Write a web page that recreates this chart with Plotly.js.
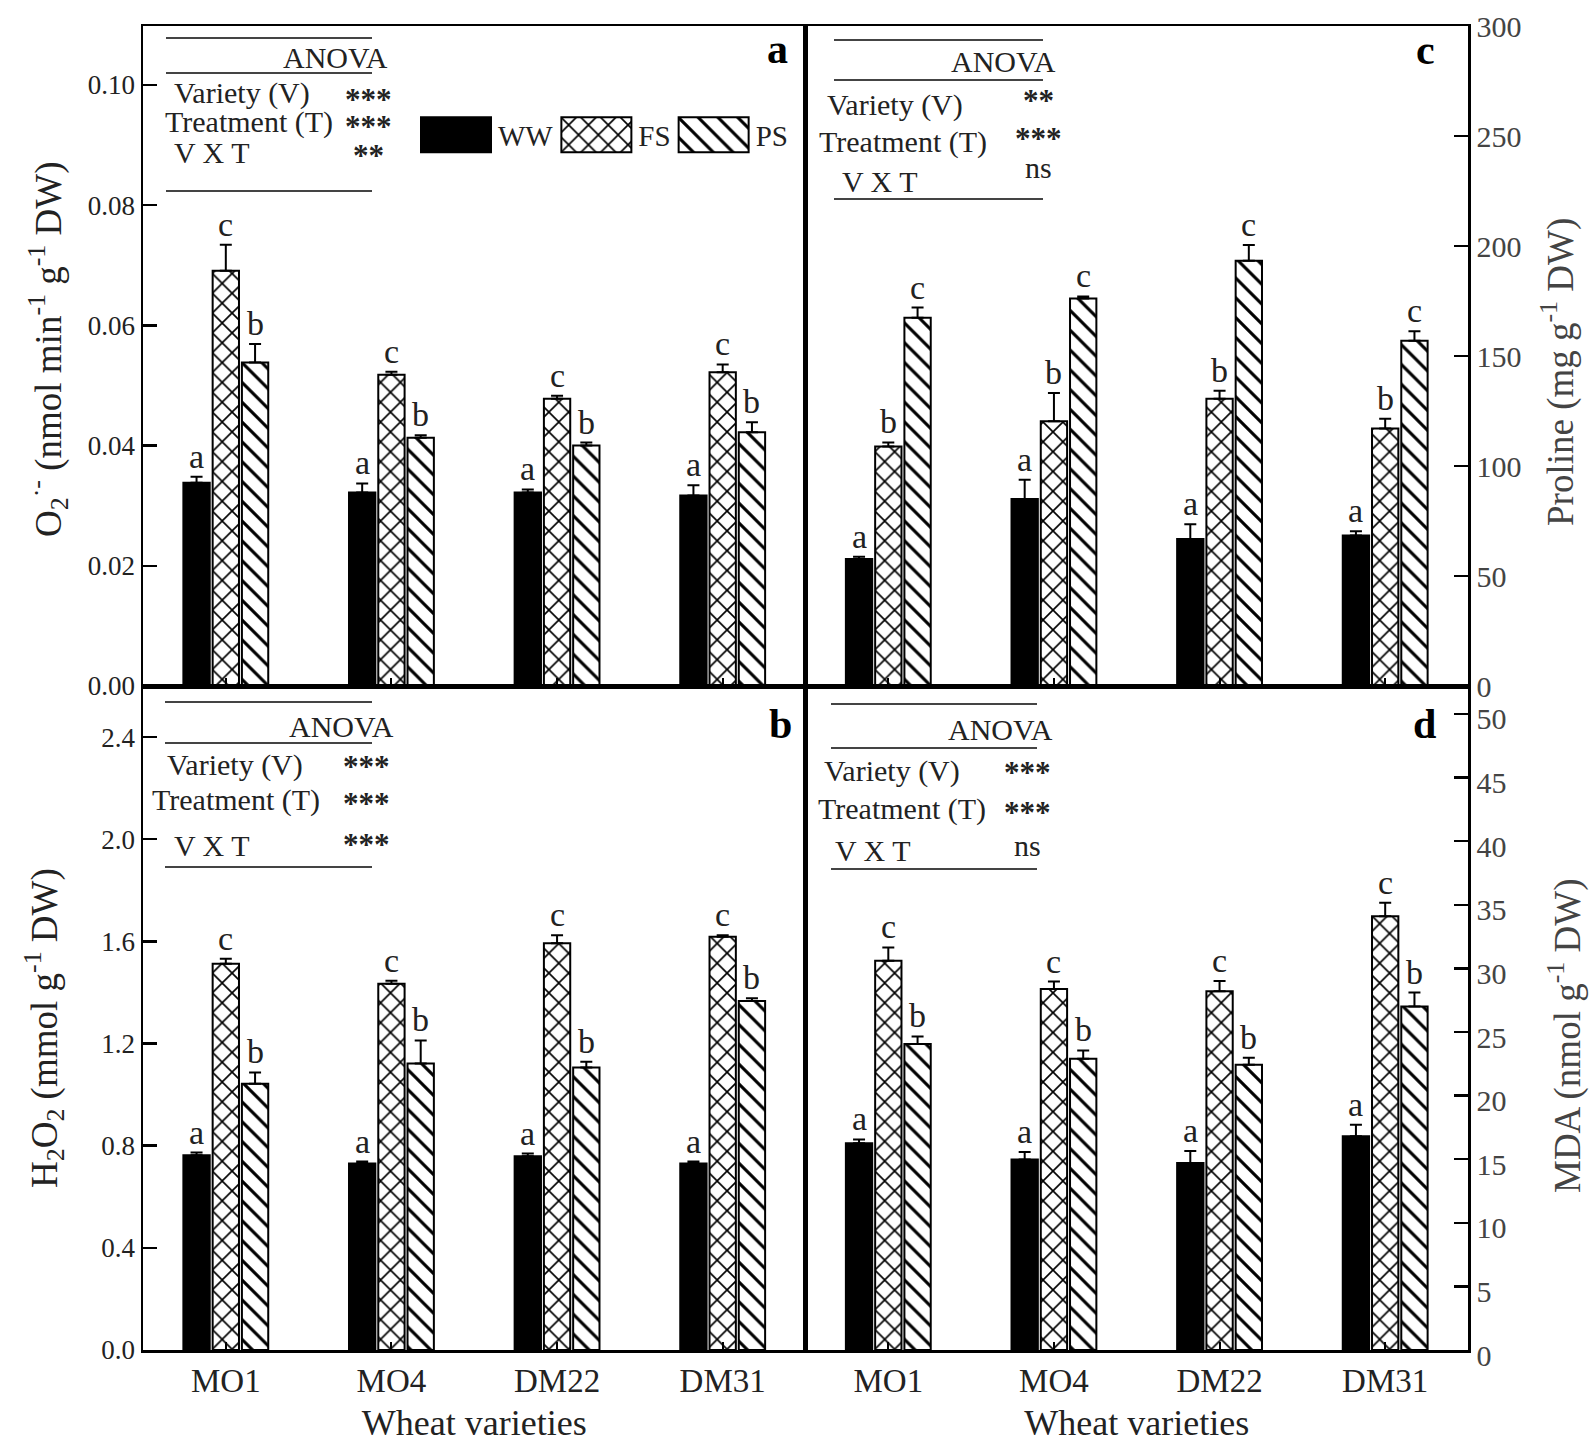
<!DOCTYPE html>
<html>
<head>
<meta charset="utf-8">
<script src="https://cdn.plot.ly/plotly-3.0.1.min.js"></script>
<style>
  html, body { margin: 0; padding: 0; background: #fff; }
  #plot { width: 1595px; height: 1451px; }
</style>
</head>
<body>
<div id="plot"></div>
<script>
// x axis: wheat varieties, bars: treatments
var varieties = ["MO1", "MO4", "DM22", "DM31"];
var treatments = ["WW", "FS", "PS"];

// (a) O2- production
var o2WW = [0.0338, 0.0322, 0.0322, 0.0317];
var o2WWErr = [0.0010, 0.0015, 0.0005, 0.0017];
var o2FS = [0.0691, 0.0518, 0.0478, 0.0522];
var o2FSErr = [0.0043, 0.0005, 0.0005, 0.0013];
var o2PS = [0.0538, 0.0413, 0.0400, 0.0422];
var o2PSErr = [0.0031, 0.0004, 0.0005, 0.0017];
var o2Letters = ["a", "c", "b"];

// (b) H2O2
var h2o2WW = [0.763, 0.730, 0.759, 0.730];
var h2o2WWErr = [0.010, 0.008, 0.010, 0.008];
var h2o2FS = [1.512, 1.434, 1.593, 1.618];
var h2o2FSErr = [0.020, 0.012, 0.031, 0.006];
var h2o2PS = [1.043, 1.122, 1.106, 1.367];
var h2o2PSErr = [0.044, 0.090, 0.023, 0.010];
var h2o2Letters = ["a", "c", "b"];

// (c) Proline
var proWW = [57.7, 85.0, 66.8, 68.4];
var proWWErr = [1.0, 8.7, 6.7, 2.0];
var proFS = [108.9, 120.4, 130.6, 117.0];
var proFSErr = [1.8, 12.8, 3.6, 4.5];
var proPS = [167.4, 176.1, 193.3, 156.9];
var proPSErr = [4.6, 1.0, 7.1, 4.4];
var proLetters = ["a", "b", "c"];

// (d) MDA
var mdaWW = [16.25, 14.98, 14.71, 16.8];
var mdaWWErr = [0.30, 0.58, 0.93, 0.90];
var mdaFS = [30.6, 28.38, 28.2, 34.1];
var mdaFSErr = [1.05, 0.58, 0.80, 1.07];
var mdaPS = [24.05, 22.9, 22.43, 27.0];
var mdaPSErr = [0.60, 0.65, 0.54, 1.10];
var mdaLetters = ["a", "c", "b"];

// ANOVA tables
var anovaTerms = ["Variety (V)", "Treatment (T)", "V X T"];
var anovaA = ["***", "***", "**"];
var anovaB = ["***", "***", "***"];
var anovaC = ["**", "***", "ns"];
var anovaD = ["***", "***", "ns"];

var yTitles = [
  "O<sub>2</sub><sup>·-</sup> (nmol min<sup>-1</sup> g<sup>-1</sup> DW)",
  "H<sub>2</sub>O<sub>2</sub> (mmol g<sup>-1</sup> DW)",
  "Proline (mg g<sup>-1</sup> DW)",
  "MDA (nmol g<sup>-1</sup> DW)"
];

var FONT = "Liberation Serif, Times New Roman, serif";
var TXT = "#222";
var W = 1595, H = 1451, ML = 143, MR = 127, MT = 26, MB = 101;
var PW = W - ML - MR, PH = H - MT - MB;
function px(X) { return (X - ML) / PW; }
function py(Y) { return 1 - (Y - MT) / PH; }

var BARGAP = 0.47;
var slot = (1 - BARGAP) / 3;
var xIdx = varieties.map(function (v, i) { return i; });
var zeros = varieties.map(function () { return 0; });

var traces = [];
var annotations = [];
var shapes = [];

function addPanel(k, vals, errs, letters, showLegend) {
  var xa = "x" + (k === 1 ? "" : k), ya = "y" + (k === 1 ? "" : k);
  treatments.forEach(function (t, i) {
    var marker = { color: i === 0 ? "black" : "white", line: { color: "black", width: 2 } };
    if (i > 0) {
      marker.pattern = { shape: i === 1 ? "x" : "\\", fgcolor: "black", bgcolor: "white", size: 14, solidity: 0.22 };
    }
    traces.push({
      type: "bar", name: t, x: xIdx, y: vals[i], xaxis: xa, yaxis: ya,
      legendgroup: t, showlegend: showLegend, marker: marker,
      error_y: { type: "data", symmetric: false, array: errs[i], arrayminus: zeros,
                 color: "black", thickness: 2, width: 6 },
      hoverinfo: "y"
    });
    vals[i].forEach(function (v, j) {
      annotations.push({
        xref: xa, yref: ya, x: j + (i - 1) * slot, y: v + errs[i][j],
        text: letters[i], showarrow: false, yanchor: "bottom", xanchor: "center",
        font: { family: FONT, size: 34, color: TXT }
      });
    });
  });
}

addPanel(1, [o2WW, o2FS, o2PS], [o2WWErr, o2FSErr, o2PSErr], o2Letters, true);
addPanel(2, [h2o2WW, h2o2FS, h2o2PS], [h2o2WWErr, h2o2FSErr, h2o2PSErr], h2o2Letters, false);
addPanel(3, [proWW, proFS, proPS], [proWWErr, proFSErr, proPSErr], proLetters, false);
addPanel(4, [mdaWW, mdaFS, mdaPS], [mdaWWErr, mdaFSErr, mdaPSErr], mdaLetters, false);

// ANOVA block: three rules, header, term rows and significance marks
function addAnova(sig, b) {
  b.lines.forEach(function (ly) {
    shapes.push({ type: "line", xref: "paper", yref: "paper",
      x0: px(b.x0), x1: px(b.x1), y0: py(ly), y1: py(ly),
      line: { color: "#444", width: 2.2 } });
  });
  annotations.push({ xref: "paper", yref: "paper", x: px(b.headX), y: py(b.headY),
    text: "ANOVA", showarrow: false, xanchor: "right", yanchor: "middle",
    font: { family: FONT, size: 30, color: TXT } });
  anovaTerms.forEach(function (term, i) {
    annotations.push({ xref: "paper", yref: "paper", x: px(b.termX[i]), y: py(b.rowY[i]),
      text: term, showarrow: false, xanchor: "left", yanchor: "middle",
      font: { family: FONT, size: 30, color: TXT } });
    var isStar = sig[i].charAt(0) === "*";
    annotations.push({ xref: "paper", yref: "paper", x: px(b.sigX), y: py(b.sigY[i]),
      text: isStar ? "<b>" + sig[i] + "</b>" : sig[i], showarrow: false,
      xanchor: "center", yanchor: "middle",
      font: { family: FONT, size: isStar ? 31 : 30, color: TXT } });
  });
}

addAnova(anovaA, { x0: 166, x1: 372, lines: [38, 73, 191], headX: 390, headY: 57,
  termX: [172, 163, 172], rowY: [93, 122, 152], sigX: 368, sigY: [99, 127, 155] });
addAnova(anovaB, { x0: 165, x1: 372, lines: [702, 743, 867], headX: 396, headY: 727,
  termX: [165, 150, 172], rowY: [765, 800, 845], sigX: 366, sigY: [766, 803, 844] });
addAnova(anovaC, { x0: 834, x1: 1043, lines: [40, 80, 199], headX: 1058, headY: 62,
  termX: [825, 817, 840], rowY: [105, 142, 181], sigX: 1038, sigY: [100, 139, 167] });
addAnova(anovaD, { x0: 831, x1: 1037, lines: [704, 748, 869], headX: 1055, headY: 729,
  termX: [822, 816, 833], rowY: [771, 809, 850], sigX: 1027, sigY: [772, 812, 845] });

// panel letters
[["a", 777, 49], ["b", 780, 724], ["c", 1425, 50], ["d", 1424, 724]].forEach(function (p) {
  annotations.push({ xref: "paper", yref: "paper", x: px(p[1]), y: py(p[2]),
    text: "<b>" + p[0] + "</b>", showarrow: false, xanchor: "center", yanchor: "middle",
    font: { family: FONT, size: 42, color: "black" } });
});

// y axis titles, set next to the frame
[[48, 349], [44, 1028], [1558, 372], [1565, 1036]].forEach(function (p, i) {
  annotations.push({ xref: "paper", yref: "paper", x: px(p[0]), y: py(p[1]),
    text: yTitles[i], showarrow: false, textangle: -90, xanchor: "center", yanchor: "middle",
    font: { family: FONT, size: 37, color: i < 2 ? TXT : "#444" } });
});

function xAxis(domain, anchor, labels) {
  return {
    domain: domain, anchor: anchor, range: [-0.5, 3.5],
    tickmode: "array", tickvals: xIdx, ticktext: varieties, showticklabels: labels,
    ticks: "inside", ticklen: 8, tickwidth: 2, tickcolor: "black",
    showline: true, linecolor: "black", linewidth: 2.5, mirror: true,
    showgrid: false, zeroline: false,
    tickfont: { family: FONT, size: 33, color: TXT },
    title: labels ? { text: "Wheat varieties", standoff: 12,
      font: { family: FONT, size: 36, color: TXT } } : { text: "" }
  };
}

function yAxis(domain, anchor, side, range, dtick, fmt, tsize, shift) {
  return {
    domain: domain, anchor: anchor, side: side, range: range, dtick: dtick, tick0: 0,
    tickformat: fmt, ticks: "inside", ticklen: 14, tickwidth: 2.5, tickcolor: "black",
    showline: true, linecolor: "black", linewidth: 2.5, mirror: true,
    showgrid: false, zeroline: false, ticklabelshift: shift,
    tickfont: { family: FONT, size: tsize, color: side === "right" ? "#444" : TXT }
  };
}

var layout = {
  width: W, height: H,
  margin: { l: ML, r: MR, t: MT, b: MB },
  paper_bgcolor: "white", plot_bgcolor: "white",
  barmode: "group", bargap: BARGAP, bargroupgap: 0.1,
  font: { family: FONT, color: TXT },
  showlegend: true,
  legend: {
    orientation: "h", x: px(418), y: py(135), xanchor: "left", yanchor: "middle",
    bgcolor: "rgba(0,0,0,0)", font: { family: FONT, size: 29, color: TXT },
    traceorder: "normal", itemwidth: 70
  },
  xaxis: xAxis([0, 0.5], "y", false),
  yaxis: yAxis([0.5015, 1], "x", "left", [0, 0.1098], 0.02, ".2f", 27, 0),
  xaxis2: xAxis([0, 0.5], "y2", true),
  yaxis2: yAxis([0, 0.5015], "x2", "left", [0, 2.6], 0.4, ".1f", 27, 0),
  xaxis3: xAxis([0.5, 1], "y3", false),
  yaxis3: yAxis([0.5015, 1], "x3", "right", [0, 300], 50, "d", 30, 0),
  xaxis4: xAxis([0.5, 1], "y4", true),
  yaxis4: yAxis([0, 0.5015], "x4", "right", [0, 52.2], 5, "d", 30, 5),
  annotations: annotations,
  shapes: shapes
};

Plotly.newPlot("plot", traces, layout, { displayModeBar: false, staticPlot: true }).then(function (gd) {
  // widen the legend swatches into 70x35 boxes like the figure's key,
  // filled with the same hatch the bars use
  var BOX_W = 70, BOX_H = 35;
  var barTraces = gd.querySelectorAll(".subplot.xy .barlayer .trace");
  gd.querySelectorAll(".legend .traces").forEach(function (g, i) {
    var sym = g.querySelector(".legendpoints path");
    var txt = g.querySelector("text.legendtext");
    if (!sym || !txt) return;
    var pr = sym.getBoundingClientRect(), tr = txt.getBoundingClientRect();
    var right = (tr.left - 7) - (pr.left + pr.width / 2);
    var left = right - BOX_W;
    sym.setAttribute("d", "M" + right + "," + (BOX_H / 2) + "H" + left +
      "V" + (-BOX_H / 2) + "H" + right + "Z");
    var bp = barTraces[i] && barTraces[i].querySelector("path");
    if (bp && i > 0 && bp.style.fill) sym.style.fill = bp.style.fill;
  });
});
</script>
</body>
</html>
